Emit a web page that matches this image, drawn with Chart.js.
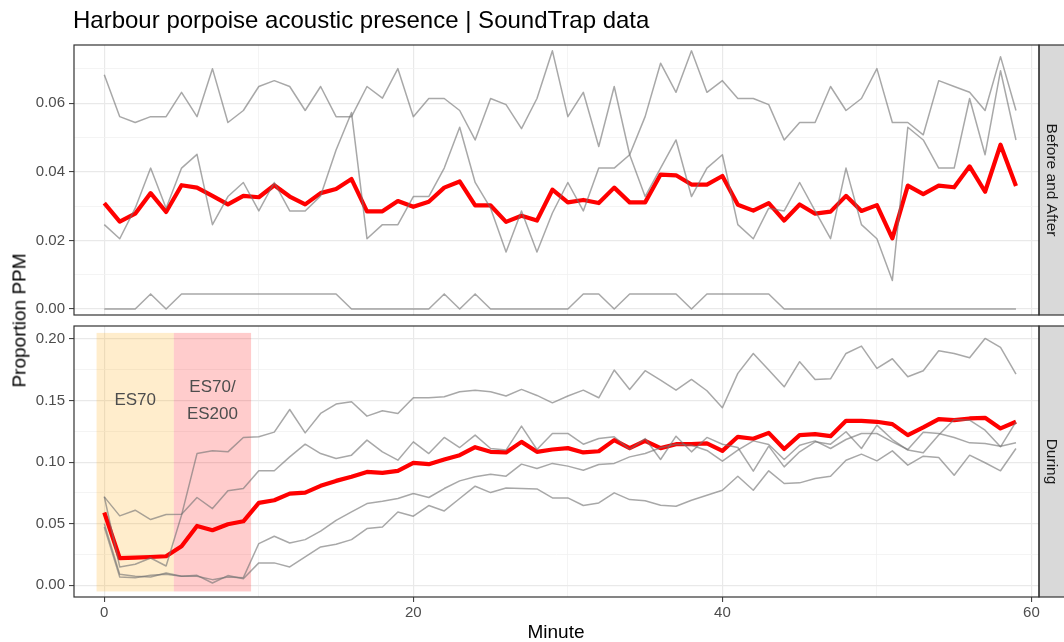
<!DOCTYPE html>
<html>
<head>
<meta charset="utf-8">
<script src="https://cdn.jsdelivr.net/npm/chart.js@4.4.1/dist/chart.umd.min.js"></script>
<style>
  html, body { margin: 0; padding: 0; background: #ffffff; }
  #wrap { position: relative; width: 1064px; height: 642px; overflow: hidden;
          font-family: "Liberation Sans", Arial, Helvetica, sans-serif; }
  #wrap canvas { position: absolute; left: 0; }
  #cTop { top: 0; }
  #cBot { top: 321px; }
  .lbl { position: absolute; white-space: nowrap; color: #000; line-height: 1; }
  #title { left: 73px; top: 8px; font-size: 24px; }
  #xTitle { left: 456px; top: 622px; width: 200px; text-align: center; font-size: 19px; }
  #yTitle { left: -131px; top: 311px; width: 300px; height: 19px; text-align: center;
            font-size: 19px; transform: rotate(-90deg); }
</style>
</head>
<body>
<div id="wrap">
  <canvas id="cTop" width="1064" height="321"></canvas>
  <canvas id="cBot" width="1064" height="321"></canvas>
  <div class="lbl" id="title">Harbour porpoise acoustic presence | SoundTrap data</div>
  <div class="lbl" id="yTitle">Proportion PPM</div>
  <div class="lbl" id="xTitle">Minute</div>
</div>
<script>
// ---- data -------------------------------------------------------------
const minutes = [0,1,2,3,4,5,6,7,8,9,10,11,12,13,14,15,16,17,18,19,
  20,21,22,23,24,25,26,27,28,29,30,31,32,33,34,35,36,37,38,39,
  40,41,42,43,44,45,46,47,48,49,50,51,52,53,54,55,56,57,58,59];

const stripLabels = ['Before and After', 'During'];

// Before and After: three deployments and their mean
const baDeployA = [0.0683,0.0561,0.0544,0.0561,0.0561,0.0632,0.0561,0.0701,0.0544,0.0579,
  0.0649,0.0666,0.0649,0.0579,0.0649,0.0561,0.0561,0.0649,0.0615,0.0701,
  0.0561,0.0614,0.0614,0.0579,0.0493,0.0614,0.0596,0.0526,0.0614,0.0753,
  0.0561,0.0632,0.0474,0.0649,0.0450,0.0328,0.0411,0.0493,0.0328,0.0411,
  0.0450,0.0246,0.0205,0.0294,0.0286,0.0369,0.0286,0.0205,0.0411,0.0246,
  0.0205,0.0083,0.0530,0.0493,0.0411,0.0411,0.0614,0.0450,0.0695,0.0493];
const baDeployB = [0.0246,0.0205,0.0294,0.0411,0.0294,0.0411,0.0451,0.0246,0.0328,0.0369,
  0.0286,0.0369,0.0286,0.0286,0.0330,0.0464,0.0573,0.0205,0.0246,0.0246,
  0.0328,0.0328,0.0411,0.0530,0.0369,0.0294,0.0166,0.0286,0.0166,0.0280,
  0.0369,0.0286,0.0411,0.0411,0.0450,0.0561,0.0717,0.0632,0.0753,0.0632,
  0.0666,0.0614,0.0614,0.0596,0.0493,0.0544,0.0544,0.0649,0.0579,0.0614,
  0.0701,0.0544,0.0544,0.0508,0.0666,0.0649,0.0632,0.0579,0.0736,0.0579];
const baDeployC = [0,0,0,0.0044,0,0.0044,0.0044,0.0044,0.0044,0.0044,
  0.0044,0.0044,0.0044,0.0044,0.0044,0.0044,0,0,0,0,
  0,0,0.0044,0,0.0044,0,0,0,0,0,
  0,0.0044,0.0044,0,0.0044,0.0044,0.0044,0.0044,0,0.0044,
  0.0044,0.0044,0.0044,0.0044,0,0,0,0,0,0,
  0,0,0,0,0,0,0,0,0,0];
const baMean = [0.0309,0.0255,0.0278,0.0338,0.0283,0.0361,0.0354,0.0330,0.0305,0.0330,
  0.0326,0.0361,0.0328,0.0305,0.0338,0.0350,0.0379,0.0285,0.0285,0.0315,
  0.0298,0.0313,0.0354,0.0372,0.0302,0.0302,0.0254,0.0272,0.0258,0.0348,
  0.0311,0.0318,0.0309,0.0354,0.0311,0.0311,0.0392,0.0390,0.0363,0.0363,
  0.0388,0.0304,0.0287,0.0309,0.0258,0.0305,0.0278,0.0284,0.0330,0.0286,
  0.0303,0.0206,0.0360,0.0335,0.0360,0.0355,0.0416,0.0342,0.0479,0.0359];

// During: four deployments and their mean
const duDeployQ = [0.0720,0.0149,0.0171,0.0222,0.0157,0.0570,0.1070,0.1092,0.1084,0.1201,
  0.1206,0.1244,0.1428,0.1238,0.1396,0.1472,0.1491,0.1374,0.1417,0.1396,
  0.1523,0.1523,0.1531,0.1572,0.1585,0.1572,0.1537,0.1591,0.1542,0.1482,
  0.1537,0.1585,0.1523,0.1748,0.1591,0.1743,0.1667,0.1585,0.1672,0.1580,
  0.1442,0.1721,0.1883,0.1748,0.1612,0.1816,0.1672,0.1677,0.1883,0.1943,
  0.1762,0.1840,0.1694,0.1743,0.1905,0.1883,0.1848,0.2005,0.1932,0.1715];
const duDeployP = [0.0718,0.0564,0.0610,0.0534,0.0575,0.0577,0.0713,0.0623,0.0767,0.0786,
  0.0930,0.0930,0.1043,0.1146,0.1070,0.1030,0.1057,0.1179,0.1084,0.1016,
  0.1165,0.1070,0.1201,0.1119,0.1220,0.1111,0.1098,0.1293,0.1103,0.1233,
  0.1233,0.1146,0.1192,0.1206,0.1103,0.1192,0.1022,0.1211,0.1084,0.1201,
  0.1146,0.1119,0.0927,0.1130,0.0962,0.1084,0.1165,0.1146,0.1247,0.1111,
  0.1301,0.1184,0.1098,0.1076,0.1220,0.1347,0.1341,0.1260,0.1125,0.1328];
const duDeployU = [0.0501,0.0089,0.0073,0.0068,0.0100,0.0073,0.0073,0.0046,0.0068,0.0062,
  0.0339,0.0398,0.0344,0.0371,0.0440,0.0528,0.0596,0.0664,0.0683,0.0705,
  0.0745,0.0713,0.0786,0.0848,0.0881,0.0902,0.0886,0.0984,0.0949,0.0990,
  0.0968,0.0935,0.0981,0.0990,0.1043,0.1070,0.1117,0.1146,0.1137,0.1095,
  0.1008,0.1098,0.1173,0.1144,0.1022,0.1138,0.1173,0.1111,0.1184,0.1233,
  0.1233,0.1165,0.1103,0.1244,0.1233,0.1201,0.1157,0.1152,0.1130,0.1157];
const duDeployW = [0.0474,0.0068,0.0062,0.0081,0.0089,0.0073,0.0081,0.0019,0.0079,0.0054,
  0.0182,0.0182,0.0149,0.0230,0.0312,0.0333,0.0371,0.0461,0.0474,0.0596,
  0.0561,0.0648,0.0604,0.0705,0.0805,0.0753,0.0791,0.0786,0.0783,0.0710,
  0.0710,0.0648,0.0669,0.0751,0.0696,0.0686,0.0650,0.0642,0.0691,0.0732,
  0.0772,0.0886,0.0772,0.0930,0.0827,0.0832,0.0867,0.0886,0.1016,0.1065,
  0.1011,0.1092,0.0976,0.1049,0.1038,0.0894,0.1057,0.0995,0.0930,0.1111];
const duMean = [0.0591,0.0220,0.0225,0.0230,0.0236,0.0317,0.0482,0.0447,0.0496,0.0520,
  0.0669,0.0691,0.0745,0.0753,0.0808,0.0848,0.0881,0.0921,0.0913,0.0930,
  0.0995,0.0984,0.1022,0.1057,0.1122,0.1084,0.1079,0.1165,0.1084,0.1103,
  0.1114,0.1079,0.1089,0.1179,0.1114,0.1173,0.1114,0.1146,0.1146,0.1152,
  0.1092,0.1206,0.1190,0.1238,0.1107,0.1220,0.1228,0.1211,0.1336,0.1336,
  0.1328,0.1309,0.1220,0.1282,0.1350,0.1341,0.1355,0.1360,0.1274,0.1328];

// Sound-source phases shaded in the "During" panel
const phaseNames = ['ES70', 'ES70/\nES200'];
const phaseStart = [-0.5, 4.5];
const phaseEnd = [4.5, 9.5];
const phaseYMin = -0.005;
const phaseYMax = 0.205;
const phaseLabelY = 0.15;

// Axis ticks
const xMajorTicks = [0, 20, 40, 60];
const xMinorTicks = [10, 30, 50];
const topMajorTicks = [0, 0.02, 0.04, 0.06];
const topMinorTicks = [0.01, 0.03, 0.05, 0.07];
const botMajorTicks = [0, 0.05, 0.10, 0.15, 0.20];
const botMinorTicks = [0.025, 0.075, 0.125, 0.175];

// ---- styling ----------------------------------------------------------
const FONT = '"Liberation Sans", Arial, Helvetica, sans-serif';
const GREY_LINE = 'rgba(115,115,115,0.62)';
const MEAN_LINE = '#ff0000';
const PHASE_FILL = ['rgba(255,165,0,0.2)', 'rgba(255,0,0,0.2)'];
const X_RANGE = [-1.96, 60.49];
const TICK_FONT = { family: FONT, size: 15 };

const toPoints = arr => minutes.map((m, i) => ({ x: m, y: arr[i] }));

function greySet(arr) {
  return { data: toPoints(arr), borderColor: GREY_LINE, borderWidth: 1.5,
           pointRadius: 0, tension: 0, borderJoinStyle: 'round' };
}
function meanSet(arr) {
  return { data: toPoints(arr), borderColor: MEAN_LINE, borderWidth: 4.2,
           pointRadius: 0, tension: 0, borderJoinStyle: 'round' };
}

function gridStyle(majorList, withTicks) {
  return {
    drawTicks: withTicks,
    tickLength: 5,
    color: c => majorList.includes(c.tick.value) ? '#e9e9e9' : '#f1f1f1',
    lineWidth: c => majorList.includes(c.tick.value) ? 1.2 : 0.8,
    tickColor: c => majorList.includes(c.tick.value) ? '#333333' : 'rgba(0,0,0,0)',
    tickWidth: 1
  };
}

function xScale(showLabels) {
  return {
    type: 'linear', min: X_RANGE[0], max: X_RANGE[1],
    afterBuildTicks: s => {
      s.ticks = xMajorTicks.concat(xMinorTicks).sort((a, b) => a - b).map(v => ({ value: v }));
    },
    ticks: { display: showLabels, autoSkip: false, maxRotation: 0, minRotation: 0, padding: 2,
             color: '#4d4d4d', font: TICK_FONT,
             callback: v => xMajorTicks.includes(v) ? String(v) : '' },
    grid: gridStyle(xMajorTicks, showLabels),
    border: { display: false },
    afterFit: s => { s.height = showLabels ? 20 : 0; s.paddingLeft = 0; s.paddingRight = 0; }
  };
}

function yScale(min, max, major, minor) {
  return {
    type: 'linear', min: min, max: max,
    afterBuildTicks: s => {
      s.ticks = major.concat(minor).sort((a, b) => a - b).map(v => ({ value: v }));
    },
    ticks: { autoSkip: false, padding: 4, color: '#4d4d4d', font: TICK_FONT,
             callback: v => major.includes(v) ? v.toFixed(2) : '' },
    grid: gridStyle(major, true),
    border: { display: false },
    afterFit: s => { s.width = 74; s.paddingTop = 0; s.paddingBottom = 0; }
  };
}

// Panel frame plus the facet strip on the right-hand side
const facetFrame = {
  id: 'facetFrame',
  afterDraw(chart, args, opts) {
    const { ctx, chartArea: a } = chart;
    ctx.save();
    ctx.fillStyle = '#d9d9d9';
    ctx.fillRect(a.right, a.top, 40, a.bottom - a.top);
    ctx.strokeStyle = '#333333';
    ctx.lineWidth = 1.2;
    ctx.strokeRect(a.right, a.top, 40, a.bottom - a.top);
    ctx.strokeRect(a.left, a.top, a.right - a.left, a.bottom - a.top);
    ctx.translate(a.right + 12.5, (a.top + a.bottom) / 2);
    ctx.rotate(Math.PI / 2);
    ctx.fillStyle = '#1a1a1a';
    ctx.font = '15.5px ' + FONT;
    ctx.textAlign = 'center';
    ctx.textBaseline = 'middle';
    ctx.fillText(opts.label, 0, 0);
    ctx.restore();
  }
};

// Shaded phase windows with their names, beneath the lines
const phaseBands = {
  id: 'phaseBands',
  beforeDatasetsDraw(chart, args, opts) {
    if (!opts.show) return;
    const { ctx, scales: { x, y } } = chart;
    ctx.save();
    phaseNames.forEach((name, i) => {
      const x0 = x.getPixelForValue(phaseStart[i]);
      const x1 = x.getPixelForValue(phaseEnd[i]);
      const y0 = y.getPixelForValue(phaseYMax);
      const y1 = y.getPixelForValue(phaseYMin);
      ctx.fillStyle = PHASE_FILL[i];
      ctx.fillRect(x0, y0, x1 - x0, y1 - y0);
    });
    ctx.fillStyle = '#4d4d4d';
    ctx.font = '17px ' + FONT;
    ctx.textAlign = 'center';
    ctx.textBaseline = 'middle';
    phaseNames.forEach((name, i) => {
      const cx = x.getPixelForValue((phaseStart[i] + phaseEnd[i]) / 2);
      const cy = y.getPixelForValue(phaseLabelY);
      const lines = name.split('\n');
      const lh = 27;
      lines.forEach((ln, k) => {
        ctx.fillText(ln, cx, cy + (k - (lines.length - 1) / 2) * lh);
      });
    });
    ctx.restore();
  }
};

const baseOptions = (padding, yOpts, showX, label, bands) => ({
  responsive: false,
  animation: false,
  devicePixelRatio: 1,
  layout: { padding: padding },
  scales: { x: xScale(showX), y: yOpts },
  plugins: {
    legend: { display: false },
    tooltip: { enabled: false },
    facetFrame: { label: label },
    phaseBands: { show: bands }
  }
});

new Chart(document.getElementById('cTop'), {
  type: 'line',
  data: { datasets: [greySet(baDeployA), greySet(baDeployB), greySet(baDeployC), meanSet(baMean)] },
  options: baseOptions({ top: 45, bottom: 6, left: 0, right: 25 },
    yScale(-0.00175, 0.077, topMajorTicks, topMinorTicks), false, stripLabels[0], false),
  plugins: [facetFrame, phaseBands]
});

new Chart(document.getElementById('cBot'), {
  type: 'line',
  data: { datasets: [greySet(duDeployQ), greySet(duDeployP), greySet(duDeployU), greySet(duDeployW), meanSet(duMean)] },
  options: baseOptions({ top: 5, bottom: 25, left: 0, right: 25 },
    yScale(-0.0095, 0.2106, botMajorTicks, botMinorTicks), true, stripLabels[1], true),
  plugins: [facetFrame, phaseBands]
});
</script>
</body>
</html>
